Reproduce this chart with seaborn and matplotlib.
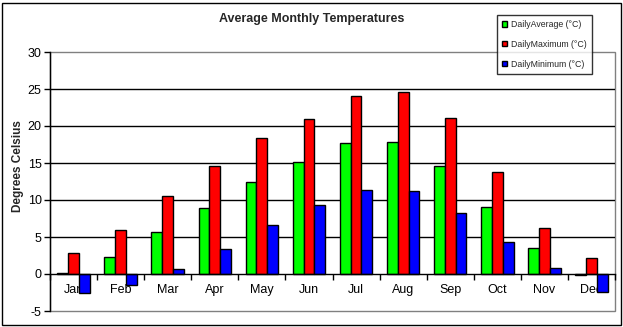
import matplotlib
matplotlib.use("Agg")
import matplotlib.pyplot as plt
from matplotlib.patches import Rectangle
from matplotlib.ticker import FixedLocator
import seaborn as sns
import pandas as pd

months = ["Jan", "Feb", "Mar", "Apr", "May", "Jun", "Jul", "Aug", "Sep", "Oct", "Nov", "Dec"]
series_names = ["DailyAverage (°C)", "DailyMaximum (°C)", "DailyMinimum (°C)"]
daily_average = [0.1, 2.3, 5.7, 8.9, 12.4, 15.1, 17.7, 17.8, 14.6, 9.0, 3.5, -0.1]
daily_maximum = [2.8, 5.9, 10.5, 14.6, 18.4, 20.9, 24.0, 24.6, 21.1, 13.8, 6.2, 2.2]
daily_minimum = [-2.6, -1.5, 0.7, 3.4, 6.6, 9.3, 11.3, 11.2, 8.2, 4.3, 0.8, -2.4]
y_ticks = [-5, 0, 5, 10, 15, 20, 25, 30]
colors = ["#00FF00", "#FF0000", "#0000FF"]

df = pd.DataFrame({
    "Month": months * 3,
    "Series": [series_names[0]] * 12 + [series_names[1]] * 12 + [series_names[2]] * 12,
    "Value": daily_average + daily_maximum + daily_minimum,
})

sns.set_style("white")
plt.rcParams["font.family"] = ["Liberation Sans", "DejaVu Sans"]

W, H = 623, 327
fig = plt.figure(figsize=(W / 100, H / 100), dpi=100)
L, R, T, B = 50, 615, 52, 311
ax = fig.add_axes([L / W, 1 - B / H, (R - L) / W, (B - T) / H])

sns.barplot(data=df, x="Month", y="Value", hue="Series", order=months,
            hue_order=series_names, palette=colors, width=0.69,
            edgecolor="black", linewidth=1.0, saturation=1, ax=ax,
            legend=True)

ax.set_axisbelow(True)
ax.set_ylim(-5, 30)
ax.set_xlim(-0.5, 11.5)
ax.set_yticks(y_ticks)
ax.set_yticklabels([str(v) for v in y_ticks], fontsize=9)
for v in y_ticks[2:-1]:
    ax.axhline(v, color="black", linewidth=1.0, zorder=0.5)

# spines
for s in ["top", "right"]:
    ax.spines[s].set_visible(False)
ax.spines["left"].set_color("black")
ax.spines["left"].set_linewidth(1.0)
ax.spines["bottom"].set_position(("data", 0))
ax.spines["bottom"].set_color("black")
ax.spines["bottom"].set_linewidth(1.0)
ax.patch.set_edgecolor("#808080")
ax.patch.set_linewidth(1.0)

ax.tick_params(axis="y", which="major", direction="out", length=4.5, width=1,
               color="black", left=True, pad=1.5, labelcolor="black")
ax.tick_params(axis="x", which="major", length=0, pad=7, labelsize=9, labelcolor="black")
ax.xaxis.set_minor_locator(FixedLocator([i - 0.5 for i in range(13)]))
ax.tick_params(axis="x", which="minor", direction="out", length=4, width=1,
               color="black", bottom=True)

ax.set_xlabel("")
ax.set_ylabel("Degrees Celsius", fontsize=8.5, fontweight="bold")
ax.yaxis.set_label_coords((24 - L) / (R - L), (B - 166) / (B - T))

leg = ax.legend(loc="upper left", bbox_to_anchor=(497 / W, 1 - 15 / H),
                bbox_transform=fig.transFigure, fontsize=6.3, frameon=True,
                fancybox=False, shadow=False, handlelength=0.6, handleheight=0.6,
                handletextpad=0.5, labelspacing=1.25, borderpad=0.55,
                borderaxespad=0, title=None)
leg.get_frame().set_edgecolor("black")
leg.get_frame().set_linewidth(1.0)
leg.get_frame().set_facecolor("white")
leg.set_zorder(10)

fig.text(0.5, 1 - 19 / H, "Average Monthly Temperatures", ha="center", va="center",
         fontsize=9, fontweight="bold")

fig.patches.append(Rectangle((2.5 / W, 2.5 / H), (W - 5) / W, (H - 5) / H,
                             transform=fig.transFigure, fill=False,
                             edgecolor="black", linewidth=1.0))

fig.savefig("out.png", dpi=100)
